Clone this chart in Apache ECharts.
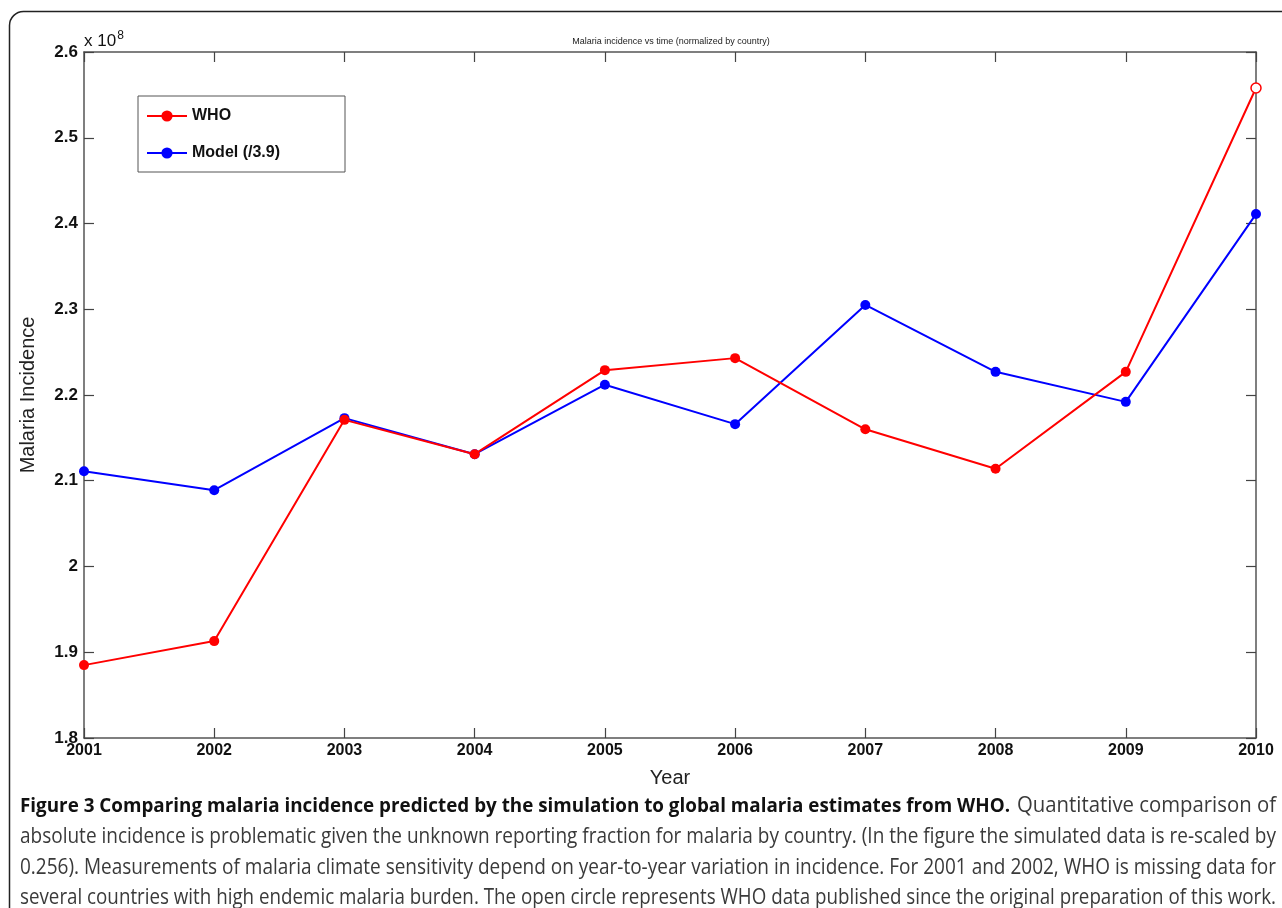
<!DOCTYPE html>
<html>
<head>
<meta charset="utf-8">
<script src="https://cdn.jsdelivr.net/npm/echarts@6/dist/echarts.min.js"></script>
<style>
html,body{margin:0;padding:0;background:#fff;}
#chart{width:1282px;height:908px;}
</style>
</head>
<body>
<div id="chart"></div>
<script>
// Data (units of 10^8)
var years = [2001, 2002, 2003, 2004, 2005, 2006, 2007, 2008, 2009, 2010];
var whoValues = [1.885, 1.913, 2.171, 2.131, 2.229, 2.243, 2.160, 2.114, 2.227, 2.558];
var modelValues = [2.111, 2.089, 2.173, 2.131, 2.212, 2.166, 2.305, 2.227, 2.192, 2.411];
var openCircleIndex = 9; // WHO data published since original preparation
var yTicks = { min: 1.8, max: 2.6, step: 0.1 };
var seriesNames = ['WHO', 'Model (/3.9)'];
var captionBold = 'Figure 3 Comparing malaria incidence predicted by the simulation to global malaria estimates from WHO.';
var captionLines = [
  'Quantitative comparison of',
  'absolute incidence is problematic given the unknown reporting fraction for malaria by country. (In the figure the simulated data is re-scaled by',
  '0.256). Measurements of malaria climate sensitivity depend on year-to-year variation in incidence. For 2001 and 2002, WHO is missing data for',
  'several countries with high endemic malaria burden. The open circle represents WHO data published since the original preparation of this work.'
];

var chart = echarts.init(document.getElementById('chart'), null, {renderer: 'canvas'});
var AX = '#555';
var plotFont = 'Liberation Sans, Arial, Helvetica, sans-serif';
var capFont = '"Open Sans", "Noto Sans", sans-serif';
var capBoldSize = 20;
var capSize = 21;

// text measurement to fit caption lines to the justified width
var mctx = document.createElement('canvas').getContext('2d');
function tw(text, weight, size) {
  mctx.font = (weight || 'normal') + ' ' + size + 'px ' + capFont;
  return mctx.measureText(text).width;
}
var capLeft = 20, capRight = 1276;
var boldRight = 1010, restLeft = 1017;

function pairs(vals) {
  return vals.map(function (v, i) { return [years[i], v]; });
}
var whoData = pairs(whoValues).map(function (p, i) {
  if (i === openCircleIndex) {
    return { value: p, itemStyle: { color: '#ffffff', borderColor: '#ff0000', borderWidth: 1.5 } };
  }
  return p;
});

var axisCommon = {
  axisLine: { show: true, lineStyle: { color: AX, width: 1.5 } },
  axisTick: { show: true, inside: true, length: 10, lineStyle: { color: '#444', width: 1.2 } },
  splitLine: { show: false }
};

var capCenters = [806, 837, 868, 898];
var capGraphics = [];
var lineScales = captionLines.map(function (t) { return (capRight - capLeft) / tw(t, 'normal', capSize); });
capGraphics.push({
  type: 'text', x: capLeft, y: capCenters[0], scaleX: (boldRight - capLeft) / tw(captionBold, 'bold', capBoldSize), silent: true,
  style: { text: captionBold, fontSize: capBoldSize, fontWeight: 'bold', fontFamily: capFont, fill: '#111', verticalAlign: 'middle' }
});
capGraphics.push({
  type: 'text', x: restLeft, y: capCenters[0], scaleX: (capRight - restLeft) / tw(captionLines[0], 'normal', capSize), silent: true,
  style: { text: captionLines[0], fontSize: capSize, fontFamily: capFont, fill: '#3a3a3a', verticalAlign: 'middle' }
});
for (var i = 1; i < captionLines.length; i++) {
  capGraphics.push({
    type: 'text', x: capLeft, y: capCenters[i], scaleX: lineScales[i], silent: true,
    style: { text: captionLines[i], fontSize: capSize, fontFamily: capFont, fill: '#3a3a3a', verticalAlign: 'middle' }
  });
}

var option = {
  animation: false,
  backgroundColor: '#ffffff',
  title: {
    text: 'Malaria incidence vs time (normalized by country)',
    left: 666, top: 32, textAlign: 'center',
    textStyle: { fontSize: 9, fontWeight: 'normal', color: '#222', fontFamily: plotFont }
  },
  legend: {
    left: 138, top: 96, orient: 'vertical',
    data: seriesNames,
    itemWidth: 40, itemHeight: 14, itemGap: 21,
    padding: [12, 65, 11, 8],
    borderColor: '#555', borderWidth: 1, backgroundColor: '#fff',
    textStyle: { fontSize: 16, fontWeight: 'bold', color: '#111', fontFamily: plotFont }
  },
  grid: { left: 84, top: 52, width: 1172, height: 686, containLabel: false },
  xAxis: [
    Object.assign({}, axisCommon, {
      type: 'value', position: 'bottom', min: years[0], max: years[years.length - 1], interval: 1,
      name: 'Year', nameLocation: 'middle', nameGap: 30,
      nameTextStyle: { fontSize: 20, color: '#222', fontFamily: plotFont },
      axisLabel: { margin: 5, fontSize: 16, fontWeight: 'bold', color: '#111', fontFamily: plotFont,
        formatter: function (v) { return String(v); } }
    }),
    Object.assign({}, axisCommon, {
      type: 'value', position: 'top', min: years[0], max: years[years.length - 1], interval: 1,
      axisLabel: { show: false }
    })
  ],
  yAxis: [
    Object.assign({}, axisCommon, {
      type: 'value', position: 'left', min: yTicks.min, max: yTicks.max, interval: yTicks.step,
      name: 'Malaria Incidence', nameLocation: 'middle', nameGap: 46, nameRotate: 90,
      nameTextStyle: { fontSize: 20, color: '#222', fontFamily: plotFont },
      axisLabel: { margin: 6, fontSize: 17, fontWeight: 'bold', color: '#111', fontFamily: plotFont,
        formatter: function (v) { return String(+v.toFixed(1)); } }
    }),
    Object.assign({}, axisCommon, {
      type: 'value', position: 'right', min: yTicks.min, max: yTicks.max, interval: yTicks.step,
      axisLabel: { show: false }
    })
  ],
  series: [
    {
      name: seriesNames[0], type: 'line', xAxisIndex: 0, yAxisIndex: 0,
      data: whoData, symbol: 'circle', symbolSize: 10, showAllSymbol: true,
      lineStyle: { color: '#ff0000', width: 2 }, itemStyle: { color: '#ff0000' },
      z: 3
    },
    {
      name: seriesNames[1], type: 'line', xAxisIndex: 0, yAxisIndex: 0,
      data: pairs(modelValues), symbol: 'circle', symbolSize: 10, showAllSymbol: true,
      lineStyle: { color: '#0000ff', width: 2 }, itemStyle: { color: '#0000ff' },
      z: 2
    }
  ],
  graphic: [
    {
      type: 'rect', silent: true, z: -1,
      shape: { x: 9.5, y: 11.5, width: 1400, height: 1000, r: 14 },
      style: { fill: 'none', stroke: '#222', lineWidth: 1.5 }
    },
    {
      type: 'text', left: 84, top: 30, silent: true,
      style: {
        text: '{a|x 10}{s|8}',
        rich: {
          a: { fontSize: 17, fontFamily: plotFont, fill: '#111', verticalAlign: 'bottom', lineHeight: 20 },
          s: { fontSize: 12, fontFamily: plotFont, fill: '#111', verticalAlign: 'top', lineHeight: 20, padding: [0, 0, 10, 1] }
        }
      }
    }
  ].concat(capGraphics)
};
chart.setOption(option);
</script>
</body>
</html>
